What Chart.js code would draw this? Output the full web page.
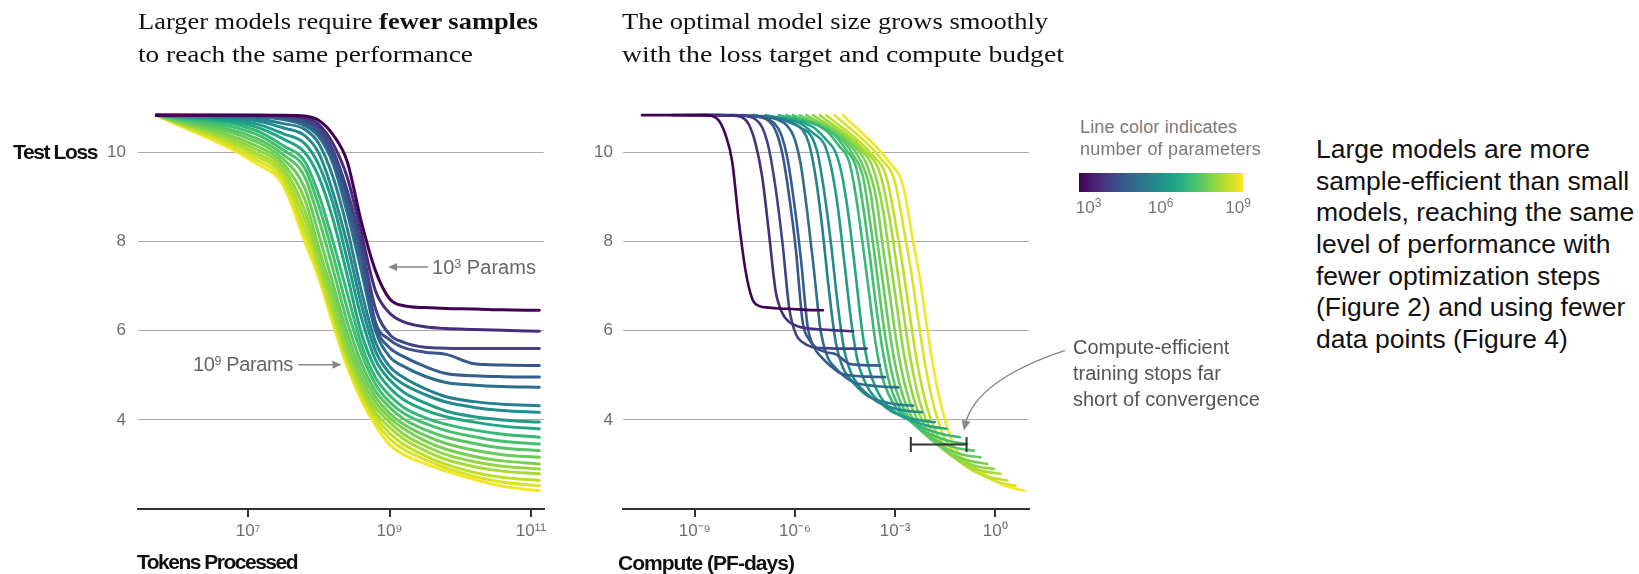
<!DOCTYPE html>
<html><head><meta charset="utf-8">
<script src="https://cdn.jsdelivr.net/npm/chart.js@4.4.1/dist/chart.umd.min.js"></script>
<style>
html,body{margin:0;padding:0;background:#fff;}
body{width:1639px;height:574px;overflow:hidden;position:relative;font-family:"Liberation Sans",Arial,sans-serif;}
canvas{position:absolute;top:0;}
.t{position:absolute;white-space:nowrap;line-height:1.2;transform:translateY(-50%);transform-origin:0 50%;z-index:2;}
.serif{font-family:"Liberation Serif","Times New Roman",serif;font-size:24px;color:#111;}
.axt{font-weight:bold;font-size:21px;color:#111;}
.ann{font-size:20px;color:#666;}
.leg{font-size:18px;color:#7a7a7a;}
.para{font-size:26.5px;color:#111;}
sup{font-size:0.62em;vertical-align:0.5em;line-height:0;}
#cbar{position:absolute;left:1079px;top:173px;width:164px;height:19px;z-index:2;}
.cl{position:absolute;white-space:nowrap;transform:translate(-50%,-50%);font-size:17px;color:#777;line-height:1.2;}
.cl sup{font-size:0.7em;}
</style></head><body>
<canvas id="cLeft" width="560" height="574" style="left:0px"></canvas>
<canvas id="cRight" width="520" height="574" style="left:560px"></canvas>

<div class="t serif" style="left:138px;top:21.3px" data-sx="400">Larger models require <b>fewer samples</b></div>
<div class="t serif" style="left:138px;top:54.3px" data-sx="335">to reach the same performance</div>
<div class="t serif" style="left:621.7px;top:21.3px" data-sx="426">The optimal model size grows smoothly</div>
<div class="t serif" style="left:621.7px;top:54.3px" data-sx="442">with the loss target and compute budget</div>

<div class="t axt" style="left:13px;top:152px" data-w="84">Test Loss</div>
<div class="t axt" style="left:137px;top:561.7px" data-w="160">Tokens Processed</div>
<div class="t axt" style="left:618px;top:563px" data-w="176">Compute (PF-days)</div>

<div class="t ann" style="left:432px;top:266.7px" data-w="104">10<sup>3</sup> Params</div>
<div class="t ann" style="left:193px;top:364.3px" data-w="100">10<sup>9</sup> Params</div>

<div class="t leg" style="left:1080px;top:128px" data-w="157">Line color indicates</div>
<div class="t leg" style="left:1080px;top:150px" data-w="181">number of parameters</div>
<div id="cbar"></div>
<div class="cl" style="left:1088.5px;top:208px">10<sup>3</sup></div>
<div class="cl" style="left:1160.5px;top:208px">10<sup>6</sup></div>
<div class="cl" style="left:1238px;top:208px">10<sup>9</sup></div>

<div class="t ann" style="left:1073px;top:347px;color:#555">Compute-efficient</div>
<div class="t ann" style="left:1073px;top:373px;color:#555">training stops far</div>
<div class="t ann" style="left:1073px;top:399px;color:#555">short of convergence</div>

<div class="t para" style="left:1316px;top:150px">Large models are more</div>
<div class="t para" style="left:1316px;top:181.7px">sample-efficient than small</div>
<div class="t para" style="left:1316px;top:213.3px">models, reaching the same</div>
<div class="t para" style="left:1316px;top:245px">level of performance with</div>
<div class="t para" style="left:1316px;top:276.7px">fewer optimization steps</div>
<div class="t para" style="left:1316px;top:308.3px">(Figure 2) and using fewer</div>
<div class="t para" style="left:1316px;top:340px">data points (Figure 4)</div>

<script>
// ---------- DATA ----------
// log10 of tokens processed at which each curve's loss is listed
const tokenExp = [5.7, 7.1, 7.5, 7.8, 8.0, 8.2, 8.4, 8.6, 8.8, 9.0, 9.2, 9.5, 9.8, 10.2, 10.6, 11.12];
// log10 of parameter count of each model (smallest -> largest)
const paramsExp = [2.88, 3.78, 4.19, 4.59, 4.74, 5.13, 5.58, 5.84, 6.23, 6.58, 6.98, 7.2, 7.4, 7.6, 7.8, 8.0, 8.2, 8.4, 8.65, 8.9];

// test loss of each model at the tokenExp points
const loss00 = [10.84, 10.84, 10.84, 10.82, 10.72, 10.40, 9.80, 8.45, 7.35, 6.72, 6.56, 6.52, 6.50, 6.49, 6.47, 6.46];
const loss01 = [10.84, 10.84, 10.83, 10.79, 10.63, 10.20, 9.45, 8.20, 6.90, 6.40, 6.20, 6.09, 6.05, 6.03, 6.01, 5.99];
const loss02 = [10.84, 10.84, 10.82, 10.74, 10.55, 10.05, 9.15, 7.95, 6.50, 5.92, 5.74, 5.63, 5.61, 5.60, 5.60, 5.60];
const loss03 = [10.84, 10.83, 10.80, 10.70, 10.48, 9.95, 9.00, 7.80, 6.20, 5.80, 5.62, 5.52, 5.47, 5.26, 5.23, 5.22];
const loss04 = [10.84, 10.82, 10.78, 10.66, 10.42, 9.85, 8.85, 7.60, 6.10, 5.62, 5.42, 5.20, 5.04, 4.99, 4.97, 4.96];
const loss05 = [10.84, 10.80, 10.74, 10.60, 10.35, 9.75, 8.65, 7.35, 6.00, 5.42, 5.20, 4.98, 4.84, 4.78, 4.75, 4.73];
const loss06 = [10.84, 10.76, 10.65, 10.52, 10.20, 9.45, 8.30, 6.90, 5.75, 5.20, 4.95, 4.70, 4.52, 4.41, 4.35, 4.32];
const loss07 = [10.84, 10.72, 10.55, 10.38, 9.98, 9.10, 7.95, 6.60, 5.55, 5.05, 4.80, 4.57, 4.40, 4.28, 4.21, 4.17];
const loss08 = [10.84, 10.65, 10.42, 10.20, 9.72, 8.85, 7.60, 6.30, 5.35, 4.90, 4.62, 4.38, 4.20, 4.07, 4.00, 3.95];
const loss09 = [10.84, 10.58, 10.30, 10.00, 9.45, 8.50, 7.25, 5.95, 5.15, 4.72, 4.45, 4.22, 4.07, 3.95, 3.86, 3.80];
const loss10 = [10.84, 10.50, 10.15, 9.80, 9.05, 8.00, 6.85, 5.70, 4.95, 4.55, 4.28, 4.05, 3.90, 3.77, 3.68, 3.61];
const loss11 = [10.84, 10.42, 10.05, 9.65, 8.80, 7.70, 6.50, 5.50, 4.80, 4.40, 4.15, 3.92, 3.76, 3.62, 3.52, 3.46];
const loss12 = [10.84, 10.33, 9.95, 9.45, 8.50, 7.38, 6.20, 5.28, 4.65, 4.28, 4.02, 3.78, 3.61, 3.47, 3.37, 3.31];
const loss13 = [10.84, 10.25, 9.85, 9.20, 8.15, 7.05, 5.95, 5.10, 4.52, 4.15, 3.90, 3.65, 3.47, 3.32, 3.22, 3.16];
const loss14 = [10.84, 10.16, 9.75, 8.95, 7.85, 6.82, 5.75, 4.95, 4.40, 4.05, 3.80, 3.53, 3.34, 3.18, 3.08, 3.01];
const loss15 = [10.84, 10.08, 9.65, 8.70, 7.65, 6.62, 5.58, 4.82, 4.28, 3.95, 3.68, 3.42, 3.22, 3.06, 2.96, 2.90];
const loss16 = [10.84, 10.00, 9.55, 8.50, 7.50, 6.45, 5.45, 4.70, 4.17, 3.83, 3.57, 3.31, 3.11, 2.95, 2.85, 2.79];
const loss17 = [10.84, 9.93, 9.45, 8.30, 7.38, 6.35, 5.37, 4.62, 4.07, 3.70, 3.45, 3.20, 3.00, 2.82, 2.71, 2.64];
const loss18 = [10.84, 9.85, 9.35, 8.15, 7.28, 6.25, 5.28, 4.53, 3.97, 3.58, 3.34, 3.11, 2.92, 2.73, 2.60, 2.52];
const loss19 = [10.84, 9.77, 9.25, 8.00, 7.18, 6.15, 5.20, 4.45, 3.88, 3.45, 3.22, 3.02, 2.85, 2.66, 2.51, 2.41];

// log10 of compute (PF-days) for the same points
const comp00 = [-10.58, -9.18, -8.78, -8.48, -8.28, -8.08, -7.88, -7.68, -7.48, -7.28, -7.08, -6.78, -6.48, -6.08, -5.68, -5.16];
const comp01 = [-9.68, -8.28, -7.88, -7.58, -7.38, -7.18, -6.98, -6.78, -6.58, -6.38, -6.18, -5.88, -5.58, -5.18, -4.78, -4.26];
const comp02 = [-9.27, -7.87, -7.47, -7.17, -6.97, -6.77, -6.57, -6.37, -6.17, -5.97, -5.77, -5.47, -5.17, -4.77, -4.37, -3.85];
const comp03 = [-8.87, -7.47, -7.07, -6.77, -6.57, -6.37, -6.17, -5.97, -5.77, -5.57, -5.37, -5.07, -4.77, -4.37, -3.97, -3.45];
const comp04 = [-8.72, -7.32, -6.92, -6.62, -6.42, -6.22, -6.02, -5.82, -5.62, -5.42, -5.22, -4.92, -4.62, -4.22, -3.82, -3.30];
const comp05 = [-8.33, -6.93, -6.53, -6.23, -6.03, -5.83, -5.63, -5.43, -5.23, -5.03, -4.83, -4.53, -4.23, -3.83, -3.43, -2.91];
const comp06 = [-7.88, -6.48, -6.08, -5.78, -5.58, -5.38, -5.18, -4.98, -4.78, -4.58, -4.38, -4.08, -3.78, -3.38, -2.98, -2.46];
const comp07 = [-7.62, -6.22, -5.82, -5.52, -5.32, -5.12, -4.92, -4.72, -4.52, -4.32, -4.12, -3.82, -3.52, -3.12, -2.72, -2.20];
const comp08 = [-7.23, -5.83, -5.43, -5.13, -4.93, -4.73, -4.53, -4.33, -4.13, -3.93, -3.73, -3.43, -3.13, -2.73, -2.33, -1.81];
const comp09 = [-6.88, -5.48, -5.08, -4.78, -4.58, -4.38, -4.18, -3.98, -3.78, -3.58, -3.38, -3.08, -2.78, -2.38, -1.98, -1.46];
const comp10 = [-6.48, -5.08, -4.68, -4.38, -4.18, -3.98, -3.78, -3.58, -3.38, -3.18, -2.98, -2.68, -2.38, -1.98, -1.58, -1.06];
const comp11 = [-6.26, -4.86, -4.46, -4.16, -3.96, -3.76, -3.56, -3.36, -3.16, -2.96, -2.76, -2.46, -2.16, -1.76, -1.36, -0.84];
const comp12 = [-6.06, -4.66, -4.26, -3.96, -3.76, -3.56, -3.36, -3.16, -2.96, -2.76, -2.56, -2.26, -1.96, -1.56, -1.16, -0.64];
const comp13 = [-5.86, -4.46, -4.06, -3.76, -3.56, -3.36, -3.16, -2.96, -2.76, -2.56, -2.36, -2.06, -1.76, -1.36, -0.96, -0.44];
const comp14 = [-5.66, -4.26, -3.86, -3.56, -3.36, -3.16, -2.96, -2.76, -2.56, -2.36, -2.16, -1.86, -1.56, -1.16, -0.76, -0.24];
const comp15 = [-5.46, -4.06, -3.66, -3.36, -3.16, -2.96, -2.76, -2.56, -2.36, -2.16, -1.96, -1.66, -1.36, -0.96, -0.56, -0.04];
const comp16 = [-5.26, -3.86, -3.46, -3.16, -2.96, -2.76, -2.56, -2.36, -2.16, -1.96, -1.76, -1.46, -1.16, -0.76, -0.36, 0.16];
const comp17 = [-5.06, -3.66, -3.26, -2.96, -2.76, -2.56, -2.36, -2.16, -1.96, -1.76, -1.56, -1.26, -0.96, -0.56, -0.16, 0.36];
const comp18 = [-4.81, -3.41, -3.01, -2.71, -2.51, -2.31, -2.11, -1.91, -1.71, -1.51, -1.31, -1.01, -0.71, -0.31, 0.09, 0.61];
const comp19 = [-4.56, -3.16, -2.76, -2.46, -2.26, -2.06, -1.86, -1.66, -1.46, -1.26, -1.06, -0.76, -0.46, -0.06, 0.34, 0.86];

// tick values
const lossTicks = [4, 6, 8, 10];
const tokenTickExp = [7, 9, 11];
const computeTickExp = [-9, -6, -3, 0];

// annotation anchors (data coordinates)
const bracketExp = [-2.53, -0.86];
const bracketLoss = 3.45;

// ---------- helpers ----------
const lossSeries = [loss00,loss01,loss02,loss03,loss04,loss05,loss06,loss07,loss08,loss09,loss10,loss11,loss12,loss13,loss14,loss15,loss16,loss17,loss18,loss19];
const compSeries = [comp00,comp01,comp02,comp03,comp04,comp05,comp06,comp07,comp08,comp09,comp10,comp11,comp12,comp13,comp14,comp15,comp16,comp17,comp18,comp19];

const viridisStops = ['#440154','#482475','#414487','#355f8d','#2a788e','#21918c','#22a884','#44bf70','#7ad151','#bddf26','#fde725'];
function hex2rgb(h){return [parseInt(h.slice(1,3),16),parseInt(h.slice(3,5),16),parseInt(h.slice(5,7),16)];}
function viridis(t){
  t=Math.max(0,Math.min(1,t));
  const p=t*10, i=Math.min(9,Math.floor(p)), f=p-i;
  const a=hex2rgb(viridisStops[i]), b=hex2rgb(viridisStops[i+1]);
  return 'rgb('+a.map((v,k)=>Math.round(v+(b[k]-v)*f)).join(',')+')';
}
document.getElementById('cbar').style.background='linear-gradient(to right,'+viridisStops.join(',')+')';

const supMap={'0':'⁰','1':'¹','2':'²','3':'³','4':'⁴','5':'⁵','6':'⁶','7':'⁷','8':'⁸','9':'⁹','-':'⁻'};
const sup = n => String(n).split('').map(c=>supMap[c]).join('');

function drawArrow(ctx,x1,y1,x2,y2){
  const ang=Math.atan2(y2-y1,x2-x1), L=9, W=4;
  ctx.beginPath(); ctx.moveTo(x1,y1); ctx.lineTo(x2-Math.cos(ang)*L*0.6,y2-Math.sin(ang)*L*0.6); ctx.stroke();
  ctx.beginPath(); ctx.moveTo(x2,y2);
  ctx.lineTo(x2-L*Math.cos(ang)+W*Math.sin(ang), y2-L*Math.sin(ang)-W*Math.cos(ang));
  ctx.lineTo(x2-L*Math.cos(ang)-W*Math.sin(ang), y2-L*Math.sin(ang)+W*Math.cos(ang));
  ctx.closePath(); ctx.fill();
}

const leftAnnot = {id:'leftAnnot', afterDatasetsDraw(chart){
  const {ctx, scales:{x,y}} = chart;
  ctx.save(); ctx.strokeStyle='#888'; ctx.fillStyle='#888'; ctx.lineWidth=1.5;
  drawArrow(ctx, x.getPixelForValue(10**9.55), y.getPixelForValue(7.43), x.getPixelForValue(10**8.98), y.getPixelForValue(7.43));
  drawArrow(ctx, x.getPixelForValue(10**7.71), y.getPixelForValue(5.24), x.getPixelForValue(10**8.32), y.getPixelForValue(5.24));
  ctx.restore();
}};

const rightAnnot = {id:'rightAnnot', afterDatasetsDraw(chart){
  const {ctx, scales:{x,y}} = chart;
  ctx.save();
  const x1=x.getPixelForValue(10**bracketExp[0]), x2=x.getPixelForValue(10**bracketExp[1]), yb=y.getPixelForValue(bracketLoss);
  ctx.strokeStyle='#333'; ctx.lineWidth=2;
  ctx.beginPath();
  ctx.moveTo(x1,yb); ctx.lineTo(x2,yb);
  ctx.moveTo(x1,yb-7.5); ctx.lineTo(x1,yb+7.5);
  ctx.moveTo(x2,yb-7.5); ctx.lineTo(x2,yb+7.5);
  ctx.stroke();
  const sx=x.getPixelForValue(10**2.09), sy=y.getPixelForValue(5.56);
  const cx=x.getPixelForValue(10**-0.61), cy=y.getPixelForValue(4.88);
  const ex=x.getPixelForValue(10**-0.94), ey=y.getPixelForValue(3.76);
  ctx.strokeStyle='#8a8a8a'; ctx.fillStyle='#8a8a8a'; ctx.lineWidth=1.5;
  const ang=Math.atan2(ey-cy,ex-cx), L=10, W=4.5;
  ctx.beginPath(); ctx.moveTo(sx,sy); ctx.quadraticCurveTo(cx,cy,ex-Math.cos(ang)*6,ey-Math.sin(ang)*6); ctx.stroke();
  ctx.beginPath(); ctx.moveTo(ex,ey);
  ctx.lineTo(ex-L*Math.cos(ang)+W*Math.sin(ang), ey-L*Math.sin(ang)-W*Math.cos(ang));
  ctx.lineTo(ex-L*Math.cos(ang)-W*Math.sin(ang), ey-L*Math.sin(ang)+W*Math.cos(ang));
  ctx.closePath(); ctx.fill();
  ctx.restore();
}};

function makeChart(id, datasets, xMinExp, xMaxExp, tickExp, yPad, axisW, padRight, plugin, bw){
  return new Chart(document.getElementById(id), {
    type:'line',
    data:{datasets},
    options:{
      responsive:false, animation:false, devicePixelRatio:1,
      layout:{padding:{top:108,right:padRight,bottom:0,left:0}},
      plugins:{legend:{display:false}, tooltip:{enabled:false}},
      elements:{point:{radius:0}, line:{borderWidth:bw, cubicInterpolationMode:'monotone', borderCapStyle:'round', borderJoinStyle:'round'}},
      scales:{
        x:{type:'logarithmic', min:10**xMinExp, max:10**xMaxExp,
          afterBuildTicks:s=>{s.ticks=tickExp.map(e=>({value:10**e}));},
          afterFit:s=>{s.height=65;},
          ticks:{autoSkip:false, maxRotation:0, minRotation:0, padding:4, color:'#6e6e6e',
            font:{family:'Liberation Sans', size:17},
            callback:v=>'10'+sup(Math.round(Math.log10(v)))},
          grid:{drawOnChartArea:false, drawTicks:true, tickLength:8, color:'#333', lineWidth:2},
          border:{display:true, color:'#333', width:2}},
        y:{type:'linear', min:2, max:11,
          afterBuildTicks:s=>{s.ticks=lossTicks.map(v=>({value:v}));},
          afterFit:s=>{s.width=axisW;},
          ticks:{padding:yPad, color:'#6e6e6e', font:{family:'Liberation Sans', size:17}},
          grid:{drawTicks:false, color:'#a9a9a9', lineWidth:1},
          border:{display:false}}
      }
    },
    plugins:[plugin]
  });
}

const leftDatasets = lossSeries.map((L,i)=>({
  data: L.map((v,j)=>({x:10**tokenExp[j], y:v})),
  borderColor: viridis((paramsExp[i]-3)/6)
}));
const rightDatasets = lossSeries.map((L,i)=>({
  data: L.map((v,j)=>({x:10**compSeries[i][j], y:v})),
  borderColor: viridis((paramsExp[i]-3)/6)
}));

function fitTexts(){
  document.querySelectorAll('[data-w]').forEach(el=>{
    el.style.letterSpacing='0px';
    const w=el.getBoundingClientRect().width;
    const n=el.textContent.length;
    el.style.letterSpacing=((+el.dataset.w - w)/n)+'px';
  });
  document.querySelectorAll('[data-sx]').forEach(el=>{
    el.style.transform='translateY(-50%)';
    const w=el.getBoundingClientRect().width;
    el.style.transform='translateY(-50%) scaleX('+(+el.dataset.sx/w)+')';
  });
}
fitTexts();
makeChart('cLeft', leftDatasets, 5.44, 11.18, tokenTickExp, 12, 138, 16.4, leftAnnot, 3);
makeChart('cRight', rightDatasets, -11.15, 1.01, computeTickExp, 10, 63, 51, rightAnnot, 2.6);
if(document.fonts && document.fonts.ready){document.fonts.ready.then(fitTexts);}
</script>
</body></html>
